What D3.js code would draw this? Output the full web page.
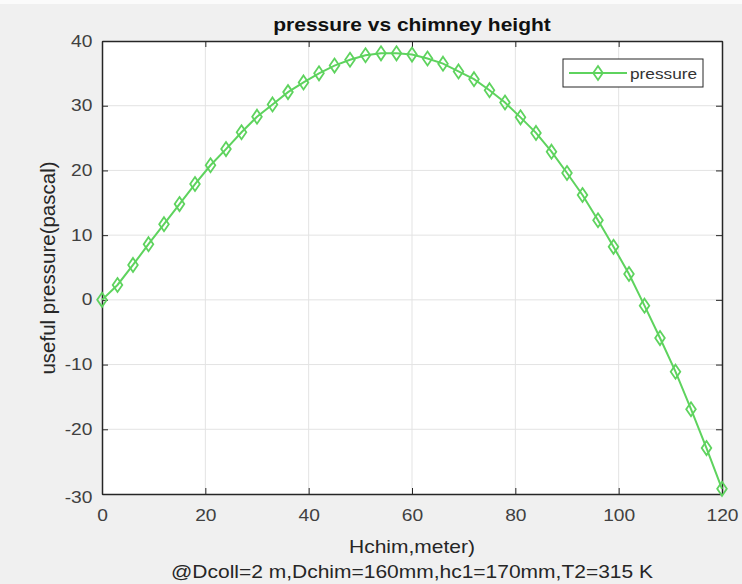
<html lang="en">
<head>
<meta charset="UTF-8">
<title>pressure vs chimney height</title>
<script src="https://d3js.org/d3.v7.min.js"></script>
<style>
  body { margin: 0; background: #f0f0f0; }
  svg { display: block; }
  .tick text { font-family: "Liberation Sans", Arial, sans-serif; font-size: 16px; fill: #404040; }
</style>
</head>
<body>
<svg width="742" height="584"></svg>
<script>
// chimney height (m)
var heights = [0, 3, 6, 9, 12, 15, 18, 21, 24, 27, 30, 33, 36, 39, 42, 45, 48, 51, 54, 57,
               60, 63, 66, 69, 72, 75, 78, 81, 84, 87, 90, 93, 96, 99, 102, 105, 108, 111, 114, 117, 120];
// useful pressure (pascal)
var pressure = [0, 2.3, 5.4, 8.6, 11.7, 14.8, 17.9, 20.8, 23.3, 25.9, 28.3, 30.2, 32.1, 33.6, 35.0, 36.2, 37.1, 37.8, 38.1, 38.1,
                37.9, 37.3, 36.5, 35.3, 34.1, 32.4, 30.5, 28.2, 25.8, 22.9, 19.6, 16.2, 12.3, 8.2, 4.0, -0.9, -5.9, -11.1, -16.9, -22.9, -29.2];
var xTicks = [0, 20, 40, 60, 80, 100, 120];
var yTicks = [-30, -20, -10, 0, 10, 20, 30, 40];

var svg = d3.select("svg");
var mLeft = 102, mRight = 722, mTop = 41, mBottom = 494;
var green = "#5ed35e";
var font = "Liberation Sans, Arial, sans-serif";
var sx = 1.2; // reference text looks stretched horizontally

svg.append("rect").attr("x", 0).attr("y", 0).attr("width", 742).attr("height", 4).attr("fill", "#fbfbfb");

var x = d3.scaleLinear().domain([0, 120]).range([mLeft, mRight]);
var y = d3.scaleLinear().domain([-30, 40]).range([mBottom, mTop]);

svg.append("rect")
    .attr("x", mLeft).attr("y", mTop)
    .attr("width", mRight - mLeft).attr("height", mBottom - mTop)
    .attr("fill", "#ffffff");

// grid
svg.append("g").selectAll("line").data(xTicks.slice(1, -1)).enter().append("line")
    .attr("x1", function (d) { return x(d); }).attr("x2", function (d) { return x(d); })
    .attr("y1", mTop).attr("y2", mBottom)
    .attr("stroke", "#e3e3e3").attr("stroke-width", 1);
svg.append("g").selectAll("line").data(yTicks.slice(1, -1)).enter().append("line")
    .attr("y1", function (d) { return y(d); }).attr("y2", function (d) { return y(d); })
    .attr("x1", mLeft).attr("x2", mRight)
    .attr("stroke", "#e3e3e3").attr("stroke-width", 1);

// axes, ticks pointing inward
var fmt = function (d) { return String(d); };
var xAxis = svg.append("g").attr("transform", "translate(0," + mBottom + ")")
    .call(d3.axisBottom(x).tickValues(xTicks).tickFormat(fmt).tickSizeInner(-6).tickSizeOuter(0).tickPadding(16));
var xTop = svg.append("g").attr("transform", "translate(0," + mTop + ")")
    .call(d3.axisTop(x).tickValues(xTicks).tickSizeInner(-6).tickSizeOuter(0).tickFormat(""));
var yAxis = svg.append("g").attr("transform", "translate(" + mLeft + ",0)")
    .call(d3.axisLeft(y).tickValues(yTicks).tickFormat(fmt).tickSizeInner(-6).tickSizeOuter(0).tickPadding(8));
var yRight = svg.append("g").attr("transform", "translate(" + mRight + ",0)")
    .call(d3.axisRight(y).tickValues(yTicks).tickSizeInner(-6).tickSizeOuter(0).tickFormat(""));
[xAxis, xTop, yAxis, yRight].forEach(function (a) {
    a.selectAll(".domain").attr("stroke", "#262626").attr("stroke-width", 1.5);
    a.selectAll(".tick line").attr("stroke", "#262626");
});
xAxis.selectAll(".tick text").attr("transform", "scale(" + sx + ",1)");
yAxis.selectAll(".tick text").attr("transform", "scale(" + sx + ",1)");
yAxis.select(".tick:first-of-type text").attr("dy", "0.55em");

// line + diamond markers
var line = d3.line()
    .x(function (d, i) { return x(heights[i]); })
    .y(function (d) { return y(d); });
svg.append("path").datum(pressure)
    .attr("d", line).attr("fill", "none")
    .attr("stroke", green).attr("stroke-width", 2);
var diamond = "M0,-7L4.8,0L0,7L-4.8,0Z";
svg.append("g").selectAll("path").data(pressure).enter().append("path")
    .attr("d", diamond)
    .attr("transform", function (d, i) { return "translate(" + x(heights[i]) + "," + y(d) + ")"; })
    .attr("fill", "none").attr("stroke", green).attr("stroke-width", 1.8);

// legend
var lg = svg.append("g");
lg.append("rect").attr("x", 563).attr("y", 59).attr("width", 140).attr("height", 28)
    .attr("fill", "#ffffff").attr("stroke", "#262626").attr("stroke-width", 1);
lg.append("line").attr("x1", 569).attr("x2", 627).attr("y1", 73).attr("y2", 73)
    .attr("stroke", green).attr("stroke-width", 2);
lg.append("path").attr("d", diamond).attr("transform", "translate(598,73)")
    .attr("fill", "none").attr("stroke", green).attr("stroke-width", 1.8);
lg.append("text").attr("transform", "translate(630,79) scale(1.15,1)").text("pressure")
    .attr("font-family", font).attr("font-size", 15).attr("fill", "#333");

// texts
function label(cx, cy, size, txt, bold) {
    svg.append("text").attr("transform", "translate(" + cx + "," + cy + ") scale(" + sx + ",1)")
        .attr("text-anchor", "middle")
        .attr("font-family", font).attr("font-size", size)
        .attr("font-weight", bold ? "bold" : "normal")
        .attr("fill", bold ? "#111" : "#262626")
        .text(txt);
}
label(412, 31, 17.5, "pressure vs chimney height", true);
label(412, 553, 17.5, "Hchim,meter)", false);
label(412, 578, 17.5, "@Dcoll=2 m,Dchim=160mm,hc1=170mm,T2=315 K", false);
svg.append("text").attr("transform", "translate(55,268) rotate(-90)").attr("text-anchor", "middle")
    .attr("font-family", font).attr("font-size", 20.5).attr("fill", "#262626")
    .text("useful pressure(pascal)");
</script>
</body>
</html>
